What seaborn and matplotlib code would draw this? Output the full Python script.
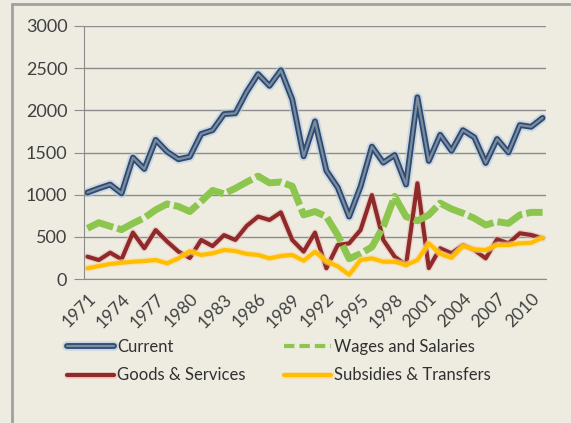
import numpy as np
import pandas as pd
import matplotlib
matplotlib.use('Agg')
import matplotlib.pyplot as plt
import matplotlib.patheffects as pe
from matplotlib.lines import Line2D
import seaborn as sns

years = list(range(1971, 2012))
current = [1025, 1075, 1120, 1015, 1440, 1305, 1650, 1510, 1420, 1450,
           1720, 1765, 1955, 1965, 2220, 2430, 2290, 2475, 2130, 1455,
           1870, 1285, 1085, 740, 1095, 1570, 1380, 1470, 1120, 2155,
           1400, 1710, 1520, 1765, 1680, 1375, 1660, 1500, 1825, 1805, 1910]
wages = [600, 668, 625, 585, 660, 725, 820, 890, 860, 800,
         920, 1050, 1010, 1075, 1150, 1220, 1140, 1150, 1100, 760,
         800, 740, 520, 240, 300, 380, 620, 980, 740, 690,
         760, 900, 830, 780, 720, 640, 680, 660, 760, 790, 790]
goods = [265, 225, 312, 233, 550, 365, 580, 445, 325, 250,
         463, 390, 520, 463, 630, 740, 700, 790, 463, 325,
         550, 127, 403, 423, 580, 995, 463, 265, 165, 1135,
         130, 364, 305, 403, 344, 245, 471, 423, 542, 522, 483]
subsidies = [127, 154, 178, 193, 205, 213, 225, 186, 245, 330,
             285, 305, 344, 332, 297, 285, 245, 273, 285, 217,
             324, 210, 150, 50, 225, 245, 205, 205, 166, 225,
             423, 300, 250, 391, 352, 344, 403, 403, 423, 430, 490]

bg = '#EEECE1'
sns.set_style('white')
plt.rcParams['font.family'] = ['Lato', 'DejaVu Sans']

fig = plt.figure(figsize=(5.71, 4.23), dpi=100, facecolor=bg)
ax = fig.add_axes([84/571, 1-279/423, (546-84)/571, (279-26)/423])
ax.set_facecolor(bg)

pos = np.arange(len(years))

# blue line with glow and light core
sns.lineplot(x=pos, y=current, ax=ax, color='#7D8C9C', lw=1.6, label='Current',
             path_effects=[pe.Stroke(linewidth=7, foreground='#B5CBE3', alpha=0.6),
                           pe.Stroke(linewidth=4.2, foreground='#2D4A72'),
                           pe.Normal()])
sns.lineplot(x=pos, y=goods, ax=ax, color='#8E2A2A', lw=3, label='Goods & Services',
             path_effects=[pe.Stroke(linewidth=5, foreground='#E8B8B0', alpha=0.5),
                           pe.Normal()])
sns.lineplot(x=pos, y=wages, ax=ax, color='#8DC64F', lw=5, label='Wages and Salaries')
ax.lines[-1].set_dashes([4, 0.6])
sns.lineplot(x=pos, y=subsidies, ax=ax, color='#FFBE00', lw=3, label='Subsidies & Transfers',
             path_effects=[pe.Stroke(linewidth=5, foreground='#FBD9A0', alpha=0.6),
                           pe.Normal()])

ax.set_ylim(0, 3000)
ax.set_xlim(-0.3, len(years) - 0.7)
ax.set_yticks(range(0, 3001, 500))
ax.yaxis.grid(True, color='#8C8C8C', lw=1)
ax.set_axisbelow(True)
for s in ['top', 'right']:
    ax.spines[s].set_visible(False)
ax.spines['left'].set_color('#8C8C8C')
ax.spines['bottom'].set_color('#8C8C8C')
ax.set_xticks(pos, minor=True)
ax.set_xticks(pos[::3])
ax.set_xticklabels([str(y) for y in years[::3]], rotation=45, ha='right',
                   rotation_mode='anchor', fontsize=12.5, color='#404040')
ax.tick_params(axis='x', which='both', direction='out', length=5, color='#8C8C8C')
ax.tick_params(axis='y', length=7, pad=5, color='#8C8C8C', labelsize=13, labelcolor='#404040')
ax.tick_params(axis='y', direction='out', left=True)
ax.set_xlabel('')
ax.set_ylabel('')

h, l = ax.get_legend_handles_labels()
ax.get_legend().remove()
leg = fig.legend(h, l, ncol=2, loc='center left', bbox_to_anchor=(52/571, 0.146),
                 frameon=False, fontsize=12, handlelength=2.8, handletextpad=0.2,
                 columnspacing=2.3, labelspacing=0.75, labelcolor='#303030')
leg_lines = leg.get_lines()
leg_lines[2].set_linewidth(3)
leg_lines[2].set_dashes([2.5, 1.2])

# chart frame (top and left edges visible)
fig.add_artist(Line2D([12/571, 12/571], [0, 1-4/423], color='#A0A0A0', lw=2,
                      transform=fig.transFigure))
fig.add_artist(Line2D([12/571, 1], [1-4/423, 1-4/423], color='#A0A0A0', lw=2,
                      transform=fig.transFigure))

fig.savefig('out.png', dpi=100, facecolor=bg)
